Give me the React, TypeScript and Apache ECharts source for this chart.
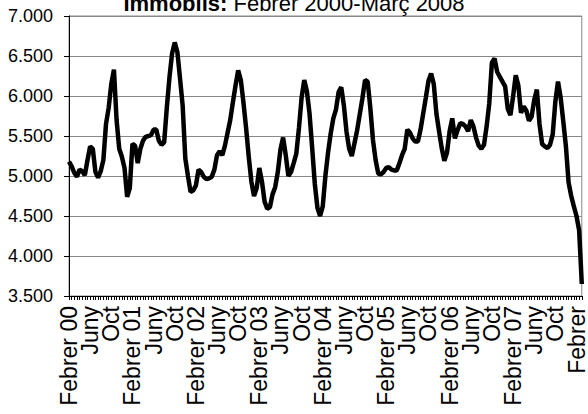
import React, { useEffect, useRef } from "react";
import * as echarts from "echarts";

// Half-month observations, Febrer 2000 (index 0) to Març 2008 (index 194)
const values: number[] = [
  5180, 5120, 5040, 4990, 5080, 5060, 5010, 5200, 5370, 5340,
  5050, 4980, 5060, 5200, 5650, 5850, 6150, 6330, 5700, 5340,
  5240, 5100, 4740, 4850, 5400, 5380, 5160, 5340, 5440, 5490,
  5500, 5510, 5580, 5580, 5440, 5390, 5420, 5850, 6230, 6530,
  6670, 6550, 6220, 5880, 5220, 5000, 4800, 4820, 4880, 5080,
  5050, 4990, 4960, 4970, 4990, 5080, 5260, 5310, 5260, 5380,
  5540, 5700, 5920, 6130, 6320, 6200, 5920, 5600, 5240, 4930,
  4750, 4850, 5100, 4930, 4680, 4590, 4610, 4770, 4860, 5050,
  5330, 5480, 5260, 5000, 5050, 5160, 5280, 5600, 5980, 6200,
  6060, 5780, 5350, 4900, 4600, 4500, 4620, 5000, 5290, 5530,
  5720, 5830, 6050, 6110, 5880, 5550, 5340, 5250, 5410, 5570,
  5770, 5970, 6200, 6180, 5850, 5450, 5200, 5030, 5020, 5050,
  5100, 5110, 5080, 5070, 5070, 5160, 5260, 5340, 5580, 5540,
  5470, 5430, 5430, 5580, 5780, 5980, 6190, 6280, 6150, 5780,
  5560, 5350, 5190, 5290, 5560, 5720, 5470, 5570, 5660, 5650,
  5620, 5560, 5700, 5620, 5480, 5380, 5340, 5390, 5620, 5910,
  6420, 6470, 6300, 6240, 6180, 6120, 5840, 5760, 5990, 6260,
  6130, 5790, 5870, 5820, 5690, 5740, 5950, 6080, 5650, 5400,
  5370, 5350, 5390, 5520, 5930, 6180, 5980, 5680, 5370, 4920,
  4750, 4620, 4500, 4320, 3650,
];

// Labels shown every 8 half-months (4 months)
const tickLabels: string[] = [
  "Febrer 00", "Juny", "Oct",
  "Febrer 01", "Juny", "Oct",
  "Febrer 02", "Juny", "Oct",
  "Febrer 03", "Juny", "Oct",
  "Febrer 04", "Juny", "Oct",
  "Febrer 05", "Juny", "Oct",
  "Febrer 06", "Juny", "Oct",
  "Febrer 07", "Juny", "Oct",
  "Febrer",
];

const monthNames: string[] = [
  "Gener", "Febrer", "Març", "Abril", "Maig", "Juny",
  "Juliol", "Agost", "Setembre", "Octubre", "Novembre", "Desembre",
];

const categories: string[] = values.map((_, k) => {
  const m = 1 + Math.floor(k / 2);
  const year = 2000 + Math.floor(m / 12);
  return `${monthNames[m % 12]} ${year} (${k % 2 === 0 ? "1" : "2"})`;
});

const yTicks = { min: 3500, max: 7000, interval: 500 };

const FONT = "'Liberation Sans', Arial, sans-serif";

function fmtThousands(v: number): string {
  const th = Math.floor(v / 1000);
  const rest = String(v % 1000).padStart(3, "0");
  return `${th}.${rest}`;
}

export default function App() {
  const ref = useRef<HTMLDivElement>(null);

  useEffect(() => {
    if (!ref.current) return;
    const chart = echarts.init(ref.current, undefined, { renderer: "svg" });
    chart.setOption({
      animation: false,
      backgroundColor: "#ffffff",
      title: {
        text: "{b|Immobils:} Febrer 2000-Març 2008",
        left: "center",
        top: -13,
        textStyle: {
          fontFamily: FONT,
          fontSize: 22,
          fontWeight: "normal",
          color: "#000",
          rich: {
            b: { fontFamily: FONT, fontSize: 22, fontWeight: "bold", color: "#000" },
          },
        },
      },
      grid: {
        left: 69,
        right: 1,
        top: 16,
        bottom: 118,
        show: true,
        borderColor: "#888",
        borderWidth: 1,
        containLabel: false,
      },
      xAxis: {
        type: "category",
        data: categories,
        boundaryGap: false,
        axisLine: { show: true, lineStyle: { color: "#000", width: 1 } },
        axisTick: { show: true, interval: 0, length: 4, lineStyle: { color: "#000" } },
        axisLabel: {
          interval: 0,
          showMinLabel: true,
          showMaxLabel: true,
          hideOverlap: false,
          rotate: 90,
          margin: 10,
          fontFamily: FONT,
          fontSize: 23,
          color: "#000",
          formatter: (_v: string, idx: number) =>
            idx % 8 === 0 ? tickLabels[idx / 8] ?? "" : "",
        },
        splitLine: { show: false },
      },
      yAxis: {
        type: "value",
        min: yTicks.min,
        max: yTicks.max,
        interval: yTicks.interval,
        axisLine: { show: true, lineStyle: { color: "#000", width: 1 } },
        axisTick: { show: true, length: 5, lineStyle: { color: "#000" } },
        axisLabel: {
          margin: 16,
          fontFamily: FONT,
          fontSize: 18,
          color: "#000",
          formatter: (v: number) => fmtThousands(v),
        },
        splitLine: { show: true, lineStyle: { color: "#888", width: 1 } },
      },
      series: [
        {
          type: "line",
          data: values,
          showSymbol: false,
          symbol: "none",
          lineStyle: { color: "#000", width: 4.5 },
          itemStyle: { color: "#000" },
        },
      ],
    });
    return () => chart.dispose();
  }, []);

  return (
    <div
      ref={ref}
      style={{ position: "fixed", left: 0, top: 0, width: 588, height: 414 }}
    />
  );
}
